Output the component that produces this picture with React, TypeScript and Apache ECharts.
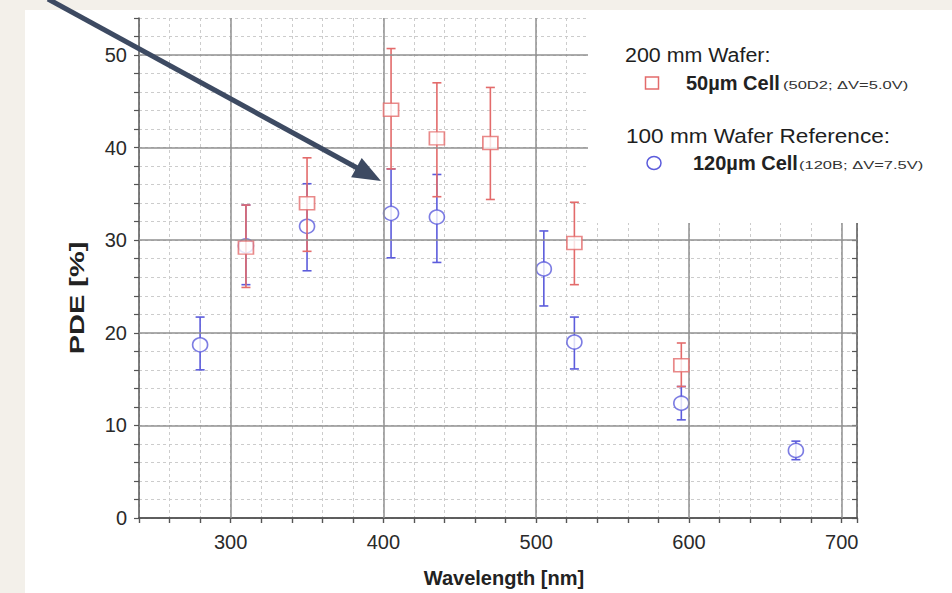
import React, { useEffect, useRef } from "react";
import * as echarts from "echarts";

// 200 mm wafer, 50µm cell
const wavelengths50 = [310, 350, 405, 435, 470, 525, 595];
const pde50 = [29.2, 34.0, 44.1, 41.0, 40.5, 29.7, 16.5];
const pde50Low = [24.9, 28.8, 37.7, 34.7, 34.4, 25.2, 14.2];
const pde50High = [33.8, 38.9, 50.7, 47.0, 46.5, 34.1, 18.9];

// 100 mm wafer reference, 120µm cell
const wavelengths120 = [280, 310, 350, 405, 435, 505, 525, 595, 670];
const pde120 = [18.7, 29.4, 31.5, 32.9, 32.5, 26.9, 19.0, 12.4, 7.3];
const pde120Low = [16.0, 25.2, 26.7, 28.1, 27.6, 22.9, 16.1, 10.6, 6.3];
const pde120High = [21.7, 33.8, 36.1, 37.7, 37.1, 31.0, 21.7, 14.2, 8.3];

// Axis ranges and major grid positions
const xRange = [240, 710];
const yRange = [0, 54];
const majorX = [300, 400, 500, 600, 700];
const majorY = [10, 20, 30, 40, 50];

const RED = "#e36b6b";
const BLUE = "#5c5cdc";
const FONT = "'Liberation Sans', Arial, Helvetica, sans-serif";

const errorBars = (color: string) => (params: any, api: any) => {
  const x = api.value(0);
  const top = api.coord([x, api.value(2)]);
  const bottom = api.coord([x, api.value(1)]);
  const cap = 4.5;
  const style = { stroke: color, lineWidth: 1.6 };
  return {
    type: "group",
    children: [
      { type: "line", shape: { x1: top[0], y1: top[1], x2: bottom[0], y2: bottom[1] }, style },
      { type: "line", shape: { x1: top[0] - cap, y1: top[1], x2: top[0] + cap, y2: top[1] }, style },
      { type: "line", shape: { x1: bottom[0] - cap, y1: bottom[1], x2: bottom[0] + cap, y2: bottom[1] }, style },
    ],
  };
};

// Pointer arrow drawn over the plot
const arrowStart = [48, -1];
const arrowTip = [381, 181];
const headLen = 28;
const headHalf = 11;

function arrowShapes() {
  const dx = arrowTip[0] - arrowStart[0];
  const dy = arrowTip[1] - arrowStart[1];
  const len = Math.sqrt(dx * dx + dy * dy);
  const ux = dx / len;
  const uy = dy / len;
  const bx = arrowTip[0] - headLen * ux;
  const by = arrowTip[1] - headLen * uy;
  const px = -uy;
  const py = ux;
  return [
    {
      type: "line",
      z: 200,
      shape: { x1: arrowStart[0], y1: arrowStart[1], x2: bx + 2 * ux, y2: by + 2 * uy },
      style: { stroke: "#3d4a62", lineWidth: 5 },
    },
    {
      type: "polygon",
      z: 200,
      shape: {
        points: [
          [arrowTip[0], arrowTip[1]],
          [bx + headHalf * px, by + headHalf * py],
          [bx - headHalf * px, by - headHalf * py],
        ],
      },
      style: { fill: "#3d4a62" },
    },
  ];
}

export default function App() {
  const ref = useRef<HTMLDivElement>(null);

  useEffect(() => {
    if (!ref.current) return;
    const chart = echarts.init(ref.current, null, { renderer: "svg" });

    const frameLine = { show: true, lineStyle: { color: "#555", width: 1.5 } };
    const minorGrid = { show: true, lineStyle: { color: "#cccccc", width: 1, type: [3, 3] as any } };
    const tickLabel = { fontFamily: FONT, fontSize: 20, color: "#2a2a2a" };

    const option: any = {
      animation: false,
      backgroundColor: "#ffffff",
      grid: { left: 139, right: 95, top: 18, bottom: 75, outerBoundsMode: "none" },
      xAxis: [
        {
          type: "value",
          position: "bottom",
          min: xRange[0],
          max: xRange[1],
          interval: 20,
          axisLine: frameLine,
          axisTick: { show: true, length: 5, lineStyle: { color: "#555", width: 1.2 } },
          axisLabel: {
            ...tickLabel,
            margin: 14,
            formatter: (v: number) => (v % 100 === 0 ? String(v) : ""),
          },
          splitLine: minorGrid,
        },
        {
          type: "value",
          position: "top",
          min: xRange[0],
          max: xRange[1],
          interval: 20,
          axisLine: frameLine,
          axisTick: { show: true, inside: true, length: 5, lineStyle: { color: "#555", width: 1.2 } },
          axisLabel: { show: false },
          splitLine: { show: false },
        },
      ],
      yAxis: [
        {
          type: "value",
          position: "left",
          min: yRange[0],
          max: yRange[1],
          interval: 2,
          axisLine: frameLine,
          axisTick: { show: true, length: 5, lineStyle: { color: "#555", width: 1.2 } },
          axisLabel: {
            ...tickLabel,
            margin: 12,
            formatter: (v: number) => (v % 10 === 0 ? String(v) : ""),
          },
          splitLine: minorGrid,
        },
        {
          type: "value",
          position: "right",
          min: yRange[0],
          max: yRange[1],
          interval: 2,
          axisLine: frameLine,
          axisTick: { show: true, inside: true, length: 5, lineStyle: { color: "#555", width: 1.2 } },
          axisLabel: { show: false },
          splitLine: { show: false },
        },
      ],
      series: [
        {
          type: "line",
          data: [],
          z: 1,
          silent: true,
          markLine: {
            silent: true,
            symbol: ["none", "none"],
            label: { show: false },
            lineStyle: { color: "#909090", width: 1.5, type: "solid" },
            data: [
              ...majorX.map((v) => ({ xAxis: v })),
              ...majorY.map((v) => ({ yAxis: v })),
            ],
          },
        },
        {
          type: "custom",
          z: 2,
          renderItem: errorBars(BLUE),
          data: wavelengths120.map((x, i) => [x, pde120Low[i], pde120High[i]]),
        },
        {
          type: "scatter",
          z: 3,
          symbol: "circle",
          symbolSize: [15, 14],
          itemStyle: { color: "#ffffff", borderColor: BLUE, borderWidth: 1.6 },
          data: wavelengths120.map((x, i) => [x, pde120[i]]),
        },
        {
          type: "custom",
          z: 4,
          renderItem: errorBars(RED),
          data: wavelengths50.map((x, i) => [x, pde50Low[i], pde50High[i]]),
        },
        {
          type: "scatter",
          z: 5,
          symbol: "rect",
          symbolSize: [15, 13],
          itemStyle: { color: "#ffffff", borderColor: RED, borderWidth: 1.6 },
          data: wavelengths50.map((x, i) => [x, pde50[i]]),
        },
      ],
      graphic: [
        // surrounding page margin
        { type: "rect", z: 50, shape: { x: 0, y: 0, width: 25, height: 593 }, style: { fill: "#f3f0ea" } },
        { type: "rect", z: 50, shape: { x: 0, y: 0, width: 952, height: 10 }, style: { fill: "#f3f0ea" } },
        // legend panel
        { type: "rect", z: 100, shape: { x: 588, y: 10, width: 364, height: 213 }, style: { fill: "#ffffff" } },
        {
          type: "text", z: 101, x: 625, y: 55, scaleX: 1.07,
          style: { text: "200 mm Wafer:", fontFamily: FONT, fontSize: 20, fill: "#1e1e1e", verticalAlign: "middle" },
        },
        {
          type: "rect", z: 101, shape: { x: 645.5, y: 77, width: 13, height: 12 },
          style: { fill: "#fff", stroke: RED, lineWidth: 1.5 },
        },
        {
          type: "text", z: 101, x: 686, y: 83,
          style: { text: "50µm Cell", fontFamily: FONT, fontSize: 20, fontWeight: "bold", fill: "#222", verticalAlign: "middle" },
        },
        {
          type: "text", z: 101, x: 783, y: 85, scaleX: 1.5,
          style: { text: "(50D2; ΔV=5.0V)", fontFamily: FONT, fontSize: 11, fill: "#333", verticalAlign: "middle" },
        },
        {
          type: "text", z: 101, x: 626, y: 136, scaleX: 1.13,
          style: { text: "100 mm Wafer Reference:", fontFamily: FONT, fontSize: 20, fill: "#1e1e1e", verticalAlign: "middle" },
        },
        {
          type: "ellipse", z: 101, shape: { cx: 654, cy: 163, rx: 7, ry: 6.5 },
          style: { fill: "#fff", stroke: BLUE, lineWidth: 1.5 },
        },
        {
          type: "text", z: 101, x: 693, y: 163,
          style: { text: "120µm Cell", fontFamily: FONT, fontSize: 20, fontWeight: "bold", fill: "#222", verticalAlign: "middle" },
        },
        {
          type: "text", z: 101, x: 799, y: 165, scaleX: 1.5,
          style: { text: "(120B; ΔV=7.5V)", fontFamily: FONT, fontSize: 11, fill: "#333", verticalAlign: "middle" },
        },
        // axis titles
        {
          type: "text", z: 101, x: 504, y: 578,
          style: {
            text: "Wavelength [nm]", fontFamily: FONT, fontSize: 20, fontWeight: "bold", fill: "#222",
            align: "center", verticalAlign: "middle",
          },
        },
        {
          type: "text", z: 101, x: 77, y: 298, rotation: Math.PI / 2, scaleX: 1.38,
          style: {
            text: "PDE [%]", fontFamily: FONT, fontSize: 21, fontWeight: "bold", fill: "#222",
            align: "center", verticalAlign: "middle",
          },
        },
        ...arrowShapes(),
      ],
    };

    chart.setOption(option);
    return () => chart.dispose();
  }, []);

  return (
    <div
      ref={ref}
      style={{ position: "fixed", left: 0, top: 0, width: 952, height: 593 }}
    />
  );
}
